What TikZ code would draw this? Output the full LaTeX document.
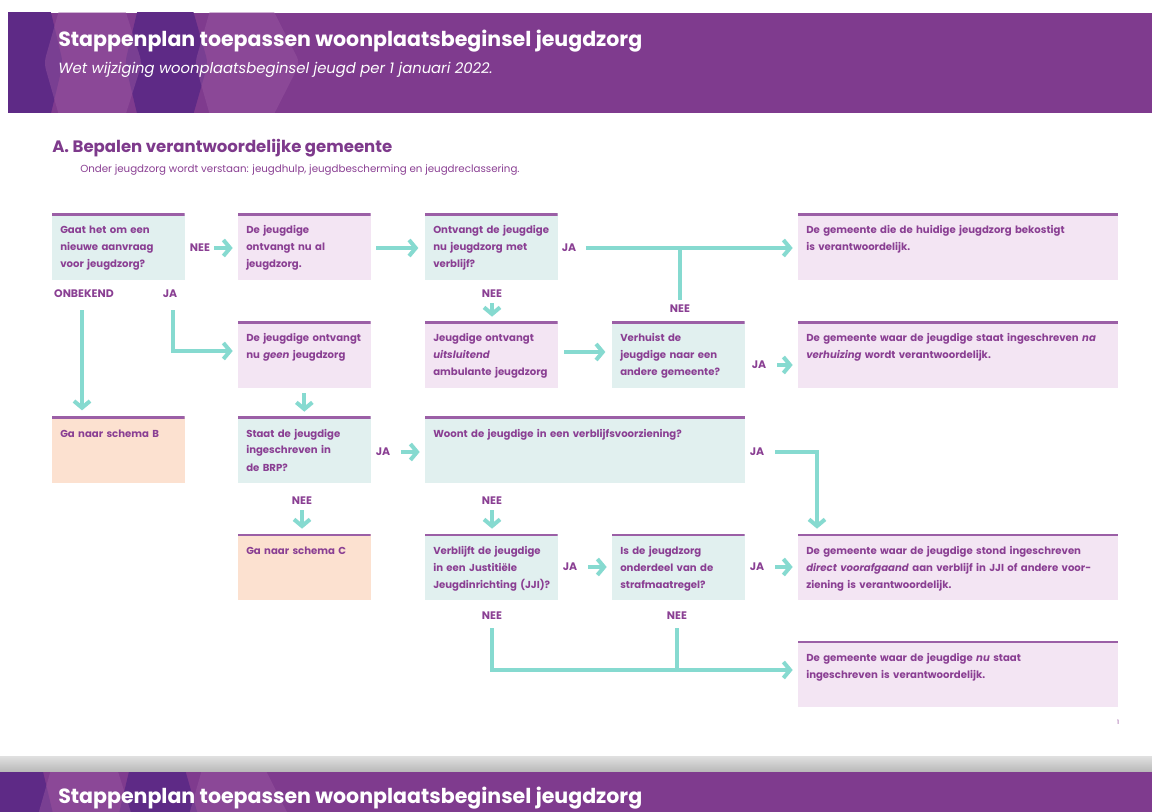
\documentclass[tikz,border=0pt]{standalone}
\usepackage{fontspec}
\setmainfont{Poppins}
\usetikzlibrary{arrows.meta,calc}
\definecolor{band}{HTML}{7F3B8E}
\definecolor{banddark}{HTML}{5E2A86}
\definecolor{bandlight}{HTML}{9A5AA2}
\definecolor{txtp}{HTML}{8A3F93}
\definecolor{titlep}{HTML}{7E3A8C}
\definecolor{arrteal}{HTML}{86DAD0}
\definecolor{fteal}{HTML}{E1F0EF}
\definecolor{fpink}{HTML}{F3E5F3}
\definecolor{forange}{HTML}{FCE1D0}
\definecolor{topl}{HTML}{9B5FA6}
\tikzset{
 box/.style={anchor=north west, inner sep=0pt, outer sep=0pt, minimum height=49.5pt,
   path picture={\draw[topl, line width=2.4pt] (path picture bounding box.north west) -- (path picture bounding box.north east);}},
 narrow/.style={minimum width=99.5pt},
 wide/.style={minimum width=240pt},
 qbox/.style={box, fill=fteal},
 abox/.style={box, fill=fpink},
 gbox/.style={box, fill=forange},
 btxt/.style={anchor=base west, inner sep=0pt, text width=300pt, align=left, text=txtp,
   font=\bfseries\fontsize{7.6}{12.75}\selectfont},
 lbl/.style={inner sep=0pt, text=txtp, font=\bfseries\fontsize{8.2}{9}\selectfont},
 arr/.style={draw=arrteal, line width=3pt, -{Straight Barb[length=5pt,width=12pt]}},
 ln/.style={draw=arrteal, line width=3pt},
 hexd/.style={fill=banddark},
 hexl/.style={fill=bandlight, fill opacity=0.45},
 ttl/.style={anchor=base west, inner sep=0pt, text=white, font=\bfseries\fontsize{15.4}{18}\selectfont},
}
\begin{document}
\begin{tikzpicture}[x=0.75pt,y=-0.75pt]
\useasboundingbox (0,0) rectangle (1152,812);
\fill[white] (0,0) rectangle (1152,812);
% ---------- header band
\begin{scope}
\clip (8,13) rectangle (1152,113);
\fill[band] (8,13) rectangle (1152,113);
\fill[hexd, rounded corners=5pt] (-40,63) -- (-20,0) -- (48,0) -- (63,63) -- (48,126) -- (-20,126) -- cycle;
\fill[hexd, rounded corners=5pt] (125,63) -- (140,0) -- (190,0) -- (208,63) -- (190,126) -- (140,126) -- cycle;
\fill[hexl, rounded corners=5pt] (44,63) -- (62,0) -- (122,0) -- (142,63) -- (122,126) -- (62,126) -- cycle;
\fill[hexl, rounded corners=5pt] (195,63) -- (213,0) -- (268,0) -- (300,63) -- (268,126) -- (213,126) -- cycle;
\end{scope}
\node[ttl] (title) at (58,47) {Stappenplan toepassen woonplaatsbeginsel jeugdzorg};
\node[anchor=base west, inner sep=0pt, text=white, font=\itshape\fontsize{11.1}{13}\selectfont] (subtitle) at (58,74) {Wet wijziging woonplaatsbeginsel jeugd per 1 januari 2022.};
% ---------- section title
\node[anchor=base west, inner sep=0pt, text=titlep, font=\bfseries\fontsize{12.4}{15}\selectfont] (sect) at (52,153) {A. Bepalen verantwoordelijke gemeente};
\node[anchor=base west, inner sep=0pt, text=txtp, font=\fontsize{7.7}{9}\selectfont] (sub) at (80,173) {Onder jeugdzorg wordt verstaan: jeugdhulp, jeugdbescherming en jeugdreclassering.};
% ---------- boxes
\node[qbox, narrow] (b1) at (52,214) {};
\node[abox, narrow] (b2) at (238,214) {};
\node[qbox, narrow] (b3) at (425,214) {};
\node[abox, wide]   (b4) at (798,214) {};
\node[abox, narrow] (b5) at (238,322) {};
\node[abox, narrow] (b6) at (425,322) {};
\node[qbox, narrow] (b7) at (612,322) {};
\node[abox, wide]   (b8) at (798,322) {};
\node[gbox, narrow] (b9) at (52,417) {};
\node[qbox, narrow] (b10) at (238,417) {};
\node[qbox, wide]   (b11) at (425,417) {};
\node[gbox, narrow] (b12) at (238,534) {};
\node[qbox, narrow] (b13) at (425,534) {};
\node[qbox, narrow] (b14) at (612,534) {};
\node[abox, wide]   (b15) at (798,534) {};
\node[abox, wide]   (b16) at (798,641) {};
% ---------- box texts
\node[btxt] (t1) at ([shift={(8,20)}]b1.north west) {Gaat het om een\\nieuwe aanvraag\\voor jeugdzorg?};
\node[btxt] (t2) at ([shift={(8,20)}]b2.north west) {De jeugdige\\ontvangt nu al\\jeugdzorg.};
\node[btxt] (t3) at ([shift={(8,20)}]b3.north west) {Ontvangt de jeugdige\\nu jeugdzorg met\\verblijf?};
\node[btxt] (t4) at ([shift={(8,20)}]b4.north west) {De gemeente die de huidige jeugdzorg bekostigt\\is verantwoordelijk.};
\node[btxt] (t5) at ([shift={(8,20)}]b5.north west) {De jeugdige ontvangt\\nu \textit{geen} jeugdzorg};
\node[btxt] (t6) at ([shift={(8,20)}]b6.north west) {Jeugdige ontvangt\\\textit{uitsluitend}\\ambulante jeugdzorg};
\node[btxt] (t7) at ([shift={(8,20)}]b7.north west) {Verhuist de\\jeugdige naar een\\andere gemeente?};
\node[btxt] (t8) at ([shift={(8,20)}]b8.north west) {De gemeente waar de jeugdige staat ingeschreven \textit{na}\\\textit{verhuizing} wordt verantwoordelijk.};
\node[btxt] (t9) at ([shift={(8,20)}]b9.north west) {Ga naar schema B};
\node[btxt] (t10) at ([shift={(8,20)}]b10.north west) {Staat de jeugdige\\ingeschreven in\\de BRP?};
\node[btxt] (t11) at ([shift={(8,20)}]b11.north west) {Woont de jeugdige in een verblijfsvoorziening?};
\node[btxt] (t12) at ([shift={(8,20)}]b12.north west) {Ga naar schema C};
\node[btxt] (t13) at ([shift={(8,20)}]b13.north west) {Verblijft de jeugdige\\in een Justitiële\\Jeugdinrichting (JJI)?};
\node[btxt] (t14) at ([shift={(8,20)}]b14.north west) {Is de jeugdzorg\\onderdeel van de\\strafmaatregel?};
\node[btxt] (t15) at ([shift={(8,20)}]b15.north west) {De gemeente waar de jeugdige stond ingeschreven\\\textit{direct voorafgaand} aan verblijf in JJI of andere voor-\\ziening is verantwoordelijk.};
\node[btxt] (t16) at ([shift={(8,20)}]b16.north west) {De gemeente waar de jeugdige \textit{nu} staat\\ingeschreven is verantwoordelijk.};
% ---------- labels
\node[lbl] (l1nee) at (200,248) {NEE};
\node[lbl] (l1onb) at (84,294) {ONBEKEND};
\node[lbl] (l1ja) at (170,294) {JA};
\node[lbl] (l3ja) at (569,248) {JA};
\node[lbl] (l3nee) at (492,294) {NEE};
\node[lbl] (l7nee) at (680,309) {NEE};
\node[lbl] (l7ja) at (759,365) {JA};
\node[lbl] (l10ja) at (383,452) {JA};
\node[lbl] (l10nee) at (302,501) {NEE};
\node[lbl] (l11ja) at (757,452) {JA};
\node[lbl] (l11nee) at (492,501) {NEE};
\node[lbl] (l13ja) at (570,567) {JA};
\node[lbl] (l14ja) at (757,567) {JA};
\node[lbl] (l13nee) at (492,616) {NEE};
\node[lbl] (l14nee) at (677,616) {NEE};
% ---------- connectors
\coordinate (jb5) at (173,351);
\coordinate (jb11) at (817,452);
\coordinate (jb13) at (492,670);
\draw[arr, shorten <=3pt, shorten >=4pt] (l1nee.east) -- (l1nee.east -| b2.west);
\draw[arr, shorten <=4pt, shorten >=5pt] (b2.east |- l1nee) -- (b3.west |- l1nee);
\draw[arr, shorten <=7pt, shorten >=4pt] (l3ja.east) -- (l3ja.east -| b4.west);
\draw[ln, shorten <=4pt] (l7nee.north) -- (l7nee.north |- l3ja);
\draw[arr, shorten <=4pt, shorten >=4pt] (l3nee.south) -- (l3nee.south |- b6.north);
\draw[arr, shorten <=9pt, shorten >=5pt] (l1onb.south -| 82,0) -- (b9.north -| 82,0);
\draw[arr, shorten <=9pt, shorten >=4pt] (l1ja.south -| jb5) -- (jb5) -- (jb5 -| b5.west);
\draw[arr, shorten <=4pt, shorten >=4pt] (b5.south) -- (b10.north);
\draw[arr, shorten <=5pt, shorten >=5pt] (b6.east |- 0,352) -- (b7.west |- 0,352);
\draw[arr, shorten <=8pt, shorten >=4pt] (l7ja.east) -- (l7ja.east -| b8.west);
\draw[arr, shorten <=8pt, shorten >=4pt] (l10ja.east) -- (l10ja.east -| b11.west);
\draw[arr, shorten <=4pt, shorten >=4pt] (l10nee.south) -- (l10nee.south |- b12.north);
\draw[arr, shorten <=8pt, shorten >=4pt] (l11ja.east) -- (jb11) -- (jb11 |- b15.north);
\draw[arr, shorten <=4pt, shorten >=4pt] (l11nee.south) -- (l11nee.south |- b13.north);
\draw[arr, shorten <=8pt, shorten >=4pt] (l13ja.east) -- (l13ja.east -| b14.west);
\draw[arr, shorten <=8pt, shorten >=4pt] (l14ja.east) -- (l14ja.east -| b15.west);
\draw[arr, shorten <=6pt, shorten >=4pt] (l13nee.south) -- (jb13) -- (jb13 -| b16.west);
\draw[ln, shorten <=6pt] (l14nee.south) -- (l14nee.south |- jb13);
% ---------- page number
\node[inner sep=0pt, text=txtp, font=\fontsize{4.5}{5}\selectfont] (pnum) at (1118,722) {1};
% ---------- bottom separator and next page header
\shade[top color=black!12, bottom color=black!28] (0,756) rectangle (1152,772);
\begin{scope}
\clip (0,772) rectangle (1152,812);
\fill[band] (0,772) rectangle (1152,812);
\fill[hexd, rounded corners=5pt] (-48,822) -- (-28,759) -- (40,759) -- (55,822) -- cycle;
\fill[hexd, rounded corners=5pt] (117,822) -- (132,759) -- (182,759) -- (200,822) -- cycle;
\fill[hexl, rounded corners=5pt] (36,822) -- (54,759) -- (114,759) -- (134,822) -- cycle;
\fill[hexl, rounded corners=5pt] (187,822) -- (205,759) -- (260,759) -- (292,822) -- cycle;
\end{scope}
\node[ttl] (title2) at (58,803) {Stappenplan toepassen woonplaatsbeginsel jeugdzorg};
\end{tikzpicture}
\end{document}
